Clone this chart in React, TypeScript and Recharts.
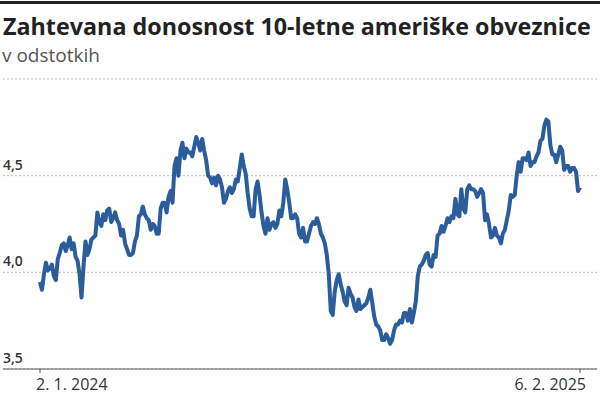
import React from 'react'
import { LineChart, Line, XAxis, YAxis, CartesianGrid } from 'recharts'

// daily yields, 2. 1. 2024 – 6. 2. 2025 (trading days)
const jan24 = [3.95, 3.91, 3.99, 4.05, 4.01, 4.02, 4.04, 3.98, 3.96, 4.07, 4.10, 4.14, 4.15, 4.11, 4.14, 4.18, 4.12, 4.15, 4.08, 4.06, 3.99]
const feb24 = [3.87, 4.03, 4.16, 4.09, 4.12, 4.17, 4.18, 4.19, 4.31, 4.26, 4.24, 4.30, 4.27, 4.32, 4.33, 4.26, 4.28, 4.31, 4.27, 4.25]
const mar24 = [4.19, 4.22, 4.15, 4.12, 4.09, 4.09, 4.10, 4.16, 4.19, 4.29, 4.30, 4.34, 4.30, 4.28, 4.27, 4.22, 4.25, 4.24, 4.20, 4.20]
const apr24 = [4.33, 4.36, 4.36, 4.31, 4.39, 4.42, 4.36, 4.55, 4.59, 4.50, 4.63, 4.67, 4.59, 4.64, 4.62, 4.62, 4.60, 4.65, 4.70, 4.67, 4.63, 4.69]
const may24 = [4.63, 4.58, 4.50, 4.49, 4.46, 4.49, 4.45, 4.50, 4.48, 4.44, 4.36, 4.38, 4.42, 4.44, 4.41, 4.43, 4.48, 4.47, 4.54, 4.61, 4.55, 4.51]
const jun24 = [4.41, 4.33, 4.29, 4.29, 4.43, 4.47, 4.40, 4.31, 4.24, 4.20, 4.28, 4.22, 4.25, 4.26, 4.23, 4.25, 4.32, 4.29, 4.36]
const jul24 = [4.48, 4.43, 4.36, 4.28, 4.28, 4.30, 4.28, 4.20, 4.18, 4.23, 4.16, 4.16, 4.20, 4.24, 4.26, 4.25, 4.28, 4.25, 4.20, 4.18, 4.15, 4.09]
const aug24 = [3.99, 3.80, 3.78, 3.90, 3.96, 3.99, 3.94, 3.90, 3.85, 3.83, 3.92, 3.89, 3.87, 3.82, 3.80, 3.86, 3.81, 3.82, 3.83, 3.84, 3.87, 3.91]
const sep24 = [3.84, 3.77, 3.73, 3.72, 3.70, 3.65, 3.65, 3.68, 3.66, 3.63, 3.65, 3.70, 3.73, 3.73, 3.75, 3.74, 3.79, 3.79, 3.75, 3.81]
const oct24 = [3.74, 3.79, 3.85, 3.98, 4.03, 4.04, 4.06, 4.09, 4.10, 4.04, 4.03, 4.09, 4.08, 4.19, 4.20, 4.24, 4.21, 4.24, 4.28, 4.26, 4.29, 4.28]
const nov24 = [4.38, 4.30, 4.29, 4.43, 4.33, 4.31, 4.43, 4.45, 4.43, 4.43, 4.42, 4.39, 4.41, 4.43, 4.41, 4.27, 4.30, 4.25, 4.18]
const dec24 = [4.19, 4.23, 4.19, 4.18, 4.15, 4.20, 4.22, 4.27, 4.32, 4.40, 4.39, 4.40, 4.50, 4.57, 4.52, 4.59, 4.59, 4.58, 4.62, 4.55, 4.57]
const jan25 = [4.57, 4.60, 4.62, 4.68, 4.69, 4.76, 4.79, 4.78, 4.66, 4.61, 4.61, 4.57, 4.61, 4.65, 4.63, 4.53, 4.55, 4.55, 4.52, 4.54]
const feb25 = [4.54, 4.52, 4.42, 4.44]

const yields = [...jan24, ...feb24, ...mar24, ...apr24, ...may24, ...jun24, ...jul24, ...aug24, ...sep24, ...oct24, ...nov24, ...dec24, ...jan25, ...feb25]
const xLabels = ['2. 1. 2024', '6. 2. 2025']
const yTicks = [3.5, 4, 4.5, 5]

const data = yields.map((v, i) => ({ i, v }))
const last = yields.length - 1

const FONT = '"Open Sans", "Noto Sans", sans-serif'

const renderXTick = (props: any) => {
  const { x, payload } = props
  const first = payload.value === 0
  return (
    <text
      x={first ? x - 4 : x + 6}
      y={390}
      textAnchor={first ? 'start' : 'end'}
      fontSize={16}
      fontFamily={FONT}
      fill="#333"
    >
      {first ? xLabels[0] : xLabels[1]}
    </text>
  )
}

const renderYTick = (props: any) => {
  const { y, payload } = props
  if (payload.value === 5) return <g />
  return (
    <text x={3} y={y - 6} textAnchor="start" fontSize={14} fontWeight={600} fontFamily={FONT} fill="#333">
      {Number(payload.value).toFixed(1).replace('.', ',')}
    </text>
  )
}

export default function App() {
  return (
    <div style={{ position: 'absolute', left: 0, top: 0, width: 600, height: 395, background: '#fff' }}>
      <svg width={600} height={70} style={{ position: 'absolute', left: 0, top: 0 }}>
        <rect x={0} y={1} width={600} height={3} fill="#222" />
        <text x={3} y={35} fontSize={23.3} fontWeight={700} fontFamily={FONT} fill="#222">
          Zahtevana donosnost 10-letne ameriške obveznice
        </text>
        <text x={2} y={62} fontSize={19} fontFamily={FONT} fill="#555">
          v odstotkih
        </text>
      </svg>
      <div style={{ position: 'absolute', left: 0, top: 0 }}>
        <LineChart width={600} height={395} data={data} margin={{ top: 79, right: 3, bottom: 0, left: 3 }}>
          <CartesianGrid vertical={false} stroke="#bdbdbd" strokeDasharray="2 2" />
          <YAxis
            type="number"
            domain={[3.5, 5]}
            ticks={yTicks}
            width={1}
            mirror
            axisLine={false}
            tickLine={false}
            tick={renderYTick}
            interval={0}
          />
          <XAxis
            dataKey="i"
            type="number"
            domain={[0, last]}
            ticks={[0, last]}
            padding={{ left: 37, right: 17 }}
            height={26}
            stroke="#555"
            tickSize={4}
            tick={renderXTick}
            interval={0}
          />
          <Line
            type="linear"
            dataKey="v"
            stroke="#2b5c9b"
            strokeWidth={4}
            strokeLinejoin="round"
            dot={false}
            isAnimationActive={false}
          />
        </LineChart>
      </div>
    </div>
  )
}
